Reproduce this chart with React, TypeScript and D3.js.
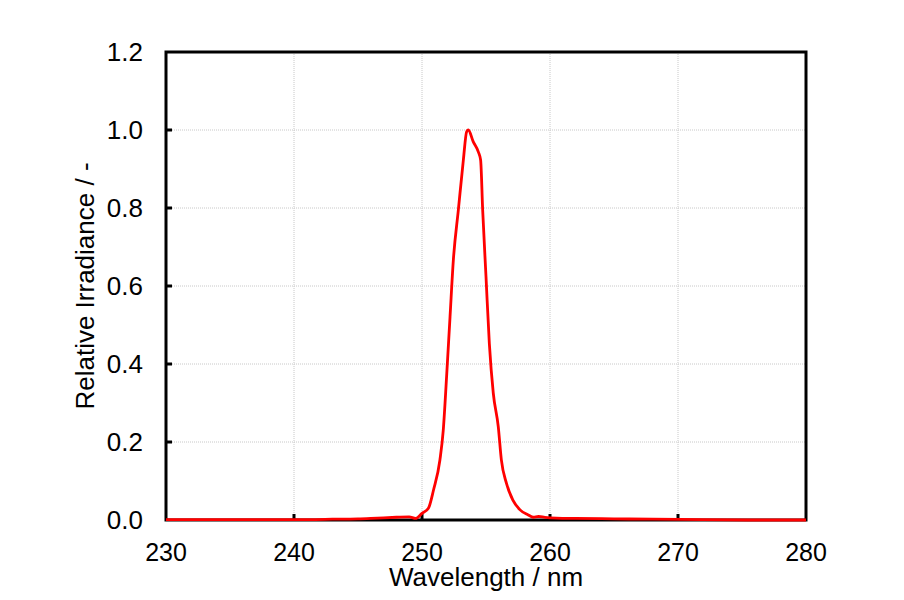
import React from "react";
import * as d3 from "d3";

const wavelengths = [230, 235, 240, 243, 245, 246.5, 248, 249, 249.5, 250, 250.5, 250.9, 251.4, 251.66, 251.92, 252.19, 252.45, 252.84, 253.23, 253.49, 253.62, 254.0, 254.4, 254.58, 254.74, 255.0, 255.26, 255.57, 255.96, 256.2, 256.6, 257.1, 257.66, 258.3, 258.7, 259.1, 259.6, 260.5, 262, 265, 268, 272, 276, 280];
const irradiance = [0.001, 0.001, 0.001, 0.002, 0.003, 0.005, 0.007, 0.008, 0.004, 0.017, 0.03, 0.077, 0.154, 0.23, 0.367, 0.521, 0.667, 0.795, 0.923, 0.996, 1.0, 0.97, 0.944, 0.923, 0.795, 0.624, 0.453, 0.325, 0.239, 0.154, 0.094, 0.051, 0.026, 0.013, 0.007, 0.009, 0.007, 0.005, 0.004, 0.003, 0.002, 0.001, 0.0, 0.0];
const xTicks = [230, 240, 250, 260, 270, 280];
const yTicks = [0, 0.2, 0.4, 0.6, 0.8, 1.0, 1.2];

const W = 904, H = 600;
const L = 166, R = 806, T = 52, B = 520;

export default function App() {
  const x = d3.scaleLinear().domain([230, 280]).range([L, R]);
  const y = d3.scaleLinear().domain([0, 1.2]).range([B, T]);
  const data = wavelengths.map((w, i) => [w, irradiance[i]] as [number, number]);
  const line = d3.line<[number, number]>().x(d => x(d[0])).y(d => y(d[1])).curve(d3.curveMonotoneX);
  const font = "'Liberation Sans', Arial, sans-serif";
  return (
    <svg width={W} height={H} style={{ position: "absolute", left: 0, top: 0, background: "#fff" }} fontFamily={font}>
      <rect x={0} y={0} width={W} height={H} fill="#fff" />
      {xTicks.slice(1, -1).map(t => (
        <line key={"gx" + t} x1={x(t)} x2={x(t)} y1={T} y2={B} stroke="#c8c8c8" strokeWidth={1} strokeDasharray="1,1" />
      ))}
      {yTicks.slice(1, -1).map(t => (
        <line key={"gy" + t} x1={L} x2={R} y1={y(t)} y2={y(t)} stroke="#c8c8c8" strokeWidth={1} strokeDasharray="1,1" />
      ))}
      {xTicks.slice(1, -1).map(t => (
        <line key={"tx" + t} x1={x(t)} x2={x(t)} y1={B} y2={B - 6} stroke="#000" strokeWidth={3} />
      ))}
      {yTicks.slice(1, -1).map(t => (
        <line key={"ty" + t} x1={L} x2={L + 6} y1={y(t)} y2={y(t)} stroke="#000" strokeWidth={3} />
      ))}
      <rect x={L} y={T} width={R - L} height={B - T} fill="none" stroke="#000" strokeWidth={3} />
      <path d={line(data) || ""} fill="none" stroke="#ff0000" strokeWidth={2.8} strokeLinejoin="round" />
      {xTicks.map(t => (
        <text key={"lx" + t} x={x(t)} y={561} textAnchor="middle" fontSize={25} fill="#000">{t}</text>
      ))}
      {yTicks.map(t => (
        <text key={"ly" + t} x={143} y={y(t)} dy="0.36em" textAnchor="end" fontSize={26} fill="#000">{t.toFixed(1)}</text>
      ))}
      <text x={(L + R) / 2} y={586} textAnchor="middle" fontSize={26} fill="#000">Wavelength / nm</text>
      <text transform={`translate(94,${(T + B) / 2}) rotate(-90)`} textAnchor="middle" fontSize={26} fill="#000">Relative Irradiance / -</text>
    </svg>
  );
}
